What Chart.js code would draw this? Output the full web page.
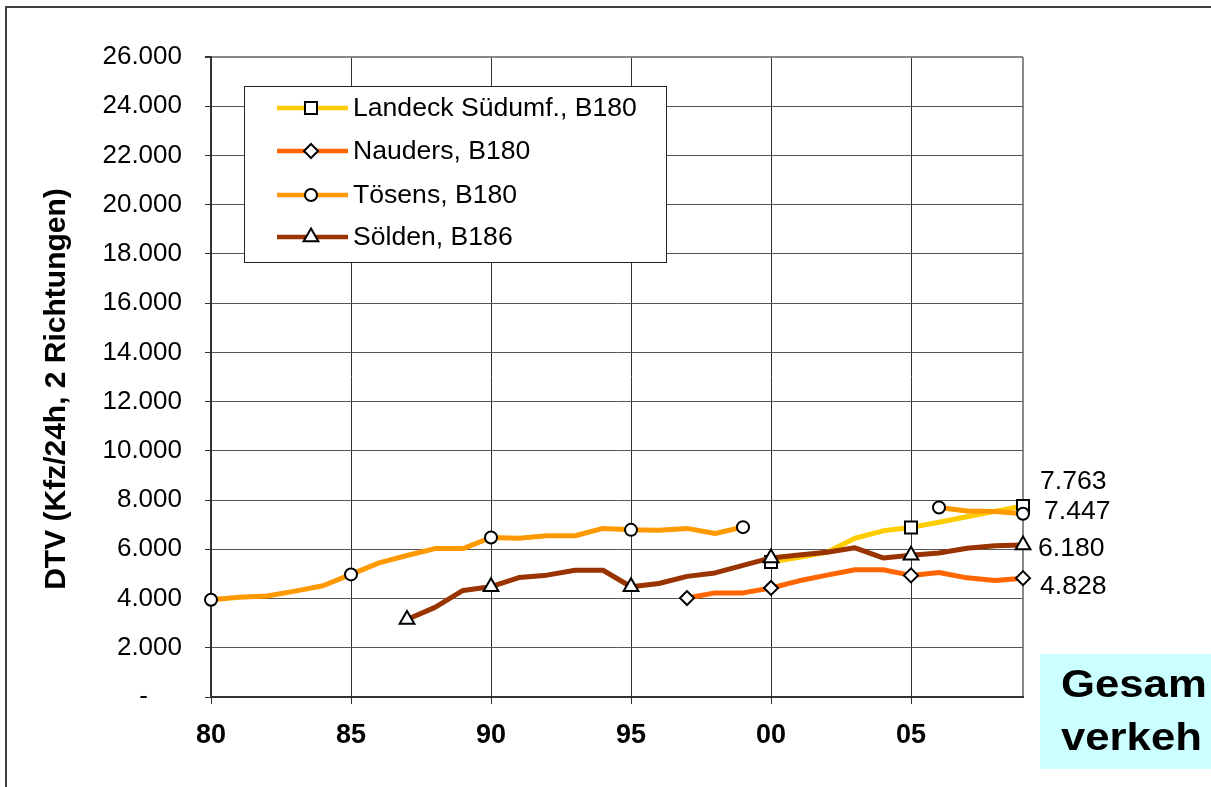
<!DOCTYPE html>
<html>
<head>
<meta charset="utf-8">
<script src="https://cdn.jsdelivr.net/npm/chart.js@4/dist/chart.umd.min.js"></script>
<style>
  html, body { margin: 0; padding: 0; background: #fff; overflow: hidden; }
  #wrap { width: 1211px; height: 787px; position: relative; }
</style>
</head>
<body>
<div id="wrap"><canvas id="c" width="1211" height="787"></canvas></div>
<script>
// Jahre 1980 bis 2009 (Kategorieachse)
const years = [1980, 1981, 1982, 1983, 1984, 1985, 1986, 1987, 1988, 1989,
               1990, 1991, 1992, 1993, 1994, 1995, 1996, 1997, 1998, 1999,
               2000, 2001, 2002, 2003, 2004, 2005, 2006, 2007, 2008, 2009];

// DTV-Werte je Zählstelle (Kfz/24h, beide Richtungen)
const landeck = [null, null, null, null, null, null, null, null, null, null,
                 null, null, null, null, null, null, null, null, null, null,
                 5480, 5680, 5880, 6450, 6750, 6890, 7100, 7320, 7540, 7763];
const nauders = [null, null, null, null, null, null, null, null, null, null,
                 null, null, null, null, null, null, null, 4020, 4230, 4230,
                 4430, 4720, 4950, 5170, 5170, 4940, 5060, 4840, 4730, 4828];
const toesens = [3950, 4050, 4100, 4300, 4520, 4980, 5450, 5750, 6030, 6030,
                 6480, 6450, 6550, 6550, 6850, 6790, 6770, 6850, 6640, 6900,
                 null, null, null, null, null, null, 7700, 7560, 7540, 7447];
const soelden = [null, null, null, null, null, null, null, 3150, 3640, 4330,
                 4480, 4850, 4950, 5150, 5150, 4480, 4610, 4900, 5040, 5350,
                 5650, 5770, 5880, 6060, 5650, 5760, 5850, 6040, 6140, 6180];

const seriesNames = ['Landeck Südumf., B180', 'Nauders, B180', 'Tösens, B180', 'Sölden, B186'];
const axisTitle = 'DTV (Kfz/24h, 2 Richtungen)';
const yMin = 0, yMax = 26000, yStep = 2000;
const boxLines = ['Gesam', 'verkeh'];

const FONT = "'Liberation Sans', Arial, Helvetica, sans-serif";

// Tausenderpunkt wie im deutschen Zahlenformat
function fmt(v) {
  return String(Math.round(v)).replace(/\B(?=(\d{3})+(?!\d))/g, '.');
}

// Marker nur an jedem 5. Jahr sowie an Anfang und Ende eines Abschnitts
function markerRadius(r) {
  return (ctx) => {
    const d = ctx.dataset.data;
    const i = ctx.dataIndex;
    if (d[i] == null) return 0;
    const prev = i > 0 ? d[i - 1] : null;
    const next = i < d.length - 1 ? d[i + 1] : null;
    return (years[i] % 5 === 0 || prev == null || next == null) ? r : 0;
  };
}

const styles = [
  { color: '#FFCC00', pointStyle: 'rect',     radius: 8.5, order: 4 },
  { color: '#FF6600', pointStyle: 'rectRot',  radius: 7,   order: 3 },
  { color: '#FF9900', pointStyle: 'circle',   radius: 6,   order: 2 },
  { color: '#993300', pointStyle: 'triangle', radius: 8.5, order: 1 }
];
const seriesData = [landeck, nauders, toesens, soelden];

const datasets = seriesData.map((data, k) => ({
  label: seriesNames[k],
  data: data,
  borderColor: styles[k].color,
  backgroundColor: styles[k].color,
  borderWidth: 5,
  borderJoinStyle: 'round',
  tension: 0,
  spanGaps: false,
  clip: false,
  order: styles[k].order,
  pointStyle: styles[k].pointStyle,
  pointRadius: markerRadius(styles[k].radius),
  pointHoverRadius: markerRadius(styles[k].radius),
  pointBackgroundColor: '#fff',
  pointBorderColor: '#000',
  pointBorderWidth: 2
}));

function drawMarker(ctx, style, radius, x, y) {
  ctx.save();
  ctx.fillStyle = '#fff';
  ctx.strokeStyle = '#000';
  ctx.lineWidth = 2;
  if (Chart.helpers && Chart.helpers.drawPoint) {
    Chart.helpers.drawPoint(ctx, { pointStyle: style, radius: radius, rotation: 0, borderWidth: 2 }, x, y);
  } else {
    ctx.beginPath();
    ctx.arc(x, y, radius, 0, Math.PI * 2);
    ctx.fill(); ctx.stroke();
  }
  ctx.restore();
}

// Rahmen, Achsentitel, Legende, Endwerte und Textfeld
const decorations = {
  id: 'decorations',
  beforeDraw(chart) {
    const ctx = chart.ctx;
    ctx.save();
    ctx.strokeStyle = '#404040';
    ctx.lineWidth = 2;
    ctx.strokeRect(6, 7, 1400, 1000);
    ctx.restore();
  },
  afterDraw(chart) {
    const ctx = chart.ctx;
    const area = chart.chartArea;

    // Titel der Werteachse, senkrecht
    ctx.save();
    ctx.translate(57, 389);
    ctx.rotate(-Math.PI / 2);
    ctx.fillStyle = '#000';
    ctx.font = 'bold 30px ' + FONT;
    ctx.textAlign = 'center';
    ctx.textBaseline = 'middle';
    ctx.fillText(axisTitle, 0, 0);
    ctx.restore();

    // Legende
    ctx.save();
    ctx.fillStyle = '#fff';
    ctx.fillRect(244.5, 86.5, 422, 176);
    ctx.strokeStyle = '#222';
    ctx.lineWidth = 1;
    ctx.strokeRect(244.5, 86.5, 422, 176);
    const rowY = [108, 151, 195, 237];
    seriesNames.forEach((name, k) => {
      const y = rowY[k];
      ctx.strokeStyle = styles[k].color;
      ctx.lineWidth = 4.5;
      ctx.beginPath();
      ctx.moveTo(277, y);
      ctx.lineTo(348, y);
      ctx.stroke();
      drawMarker(ctx, styles[k].pointStyle, styles[k].radius, 311, y);
      ctx.fillStyle = '#000';
      ctx.font = '26.6px ' + FONT;
      ctx.textAlign = 'left';
      ctx.textBaseline = 'middle';
      ctx.fillText(name, 353, y + 1);
    });
    ctx.restore();

    // Werte des letzten Jahres rechts neben der Kurve
    const labelOrder = [0, 2, 3, 1];       // Landeck, Tösens, Sölden, Nauders
    const dx = [17, 21, 15, 17];
    const dy = [-24, -2, 4, 8];
    ctx.save();
    ctx.fillStyle = '#000';
    ctx.font = '26.6px ' + FONT;
    ctx.textAlign = 'left';
    ctx.textBaseline = 'middle';
    labelOrder.forEach((k, j) => {
      const meta = chart.getDatasetMeta(k);
      const last = seriesData[k].length - 1;
      const el = meta.data[last];
      ctx.fillText(fmt(seriesData[k][last]), area.right + dx[j], el.y + dy[j]);
    });
    ctx.restore();

    // Textfeld unten rechts
    ctx.save();
    ctx.fillStyle = '#CCFFFF';
    ctx.fillRect(1040, 654, 200, 115);
    ctx.fillStyle = '#000';
    ctx.font = 'bold 38px ' + FONT;
    ctx.textAlign = 'left';
    ctx.textBaseline = 'alphabetic';
    [697, 750].forEach((by, i) => {
      ctx.save();
      ctx.translate(1061, by);
      ctx.scale(1.15, 1);
      ctx.fillText(boxLines[i], 0, 0);
      ctx.restore();
    });
    ctx.restore();
  }
};

new Chart(document.getElementById('c'), {
  type: 'line',
  data: { labels: years, datasets: datasets },
  options: {
    responsive: false,
    animation: false,
    events: [],
    devicePixelRatio: 1,
    layout: { padding: { left: 0, top: 57, right: 188, bottom: 0 } },
    plugins: { legend: { display: false }, tooltip: { enabled: false } },
    scales: {
      x: {
        type: 'category',
        offset: false,
        border: { color: '#333', width: 2 },
        grid: {
          color: (c) => {
            const i = c.index;
            if (i === years.length - 1) return '#888';
            return years[i] % 5 === 0 ? '#333' : 'rgba(0,0,0,0)';
          },
          lineWidth: (c) => (c.index === years.length - 1 ? 2 : 1),
          tickColor: (c) => (years[c.index] % 5 === 0 && c.index !== years.length - 1) ? '#333' : 'rgba(0,0,0,0)',
          tickLength: 7,
          tickWidth: 1
        },
        ticks: {
          autoSkip: false,
          maxRotation: 0,
          minRotation: 0,
          padding: 15,
          color: '#000',
          font: { family: FONT, size: 27, weight: 'bold' },
          callback: (v, i) => (years[i] % 5 === 0 ? String(years[i]).slice(2) : '')
        },
        afterFit: (s) => { s.height = 90; }
      },
      y: {
        min: yMin,
        max: yMax,
        border: { color: '#333', width: 2 },
        grid: {
          color: (c) => (c.tick && c.tick.value === yMax ? '#888' : '#555'),
          lineWidth: (c) => (c.tick && c.tick.value === yMax ? 2 : 1),
          tickColor: '#333',
          tickLength: 6
        },
        ticks: {
          stepSize: yStep,
          padding: 23,
          color: '#000',
          font: { family: FONT, size: 26 },
          callback: (v) => (v === 0 ? '-\u2007\u2007\u2009' : fmt(v))
        },
        afterFit: (s) => { s.width = 211; }
      }
    }
  },
  plugins: [decorations]
});
</script>
</body>
</html>
